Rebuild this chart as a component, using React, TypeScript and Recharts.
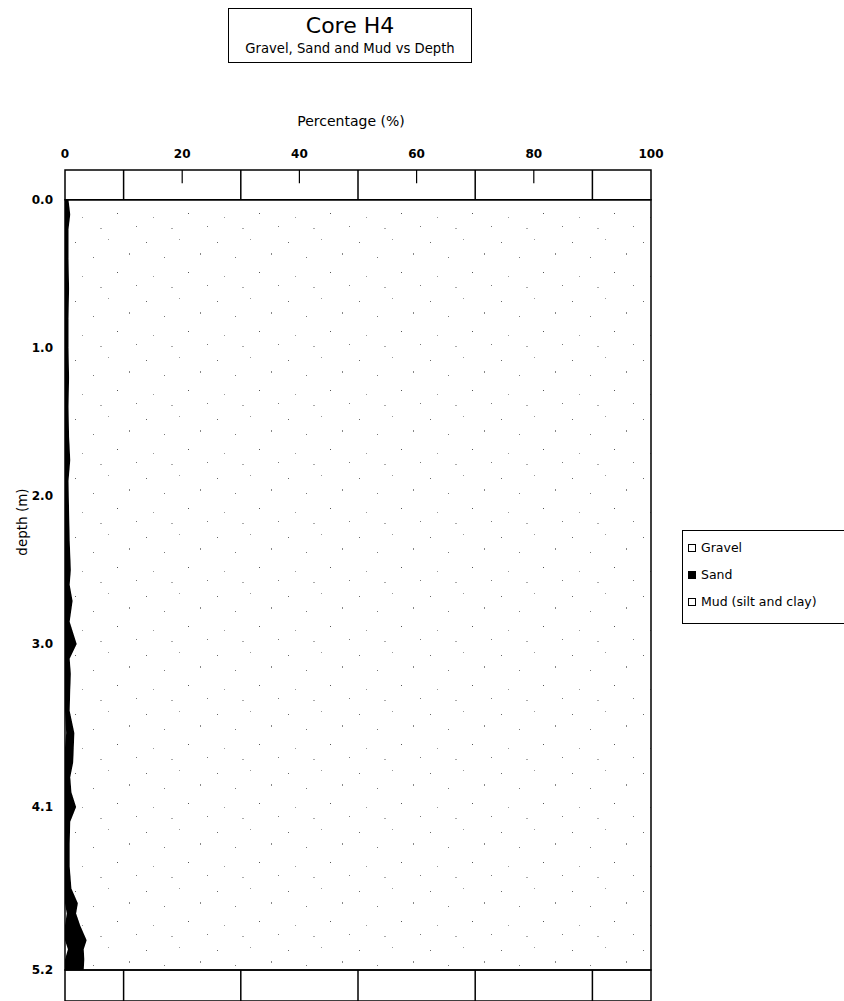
import { Area, ComposedChart, Legend, ReferenceArea, ReferenceLine, XAxis, YAxis } from 'recharts'

// depth below core top (m)
const depths = [
  0, 0.1, 0.2, 0.4, 0.6, 0.8, 1.0, 1.2, 1.4, 1.6, 1.76, 1.9, 2.1, 2.3, 2.5, 2.6, 2.71, 2.85, 3.0, 3.1,
  3.2, 3.31, 3.45, 3.6, 3.7, 3.8, 3.9, 4.0, 4.1, 4.2, 4.35, 4.5, 4.65, 4.75, 4.82, 4.9, 5.0, 5.06, 5.13, 5.2
]
const gravelPct = [
  0, 0, 0, 0, 0, 0, 0, 0, 0, 0, 0, 0, 0, 0, 0, 0, 0, 0, 0, 0,
  0, 0, 0, 0.2, 0, 0, 0, 0, 0, 0, 0, 0, 0, 0, 0.3, 0, 0, 0.5, 0, 0
]
const sandPct = [
  0.6, 0.9, 0.6, 0.6, 0.7, 0.6, 0.6, 0.7, 0.6, 0.7, 0.9, 0.6, 0.7, 0.8, 1.0, 0.8, 1.3, 0.8, 2.0, 0.8,
  1.0, 0.9, 0.8, 1.4, 1.5, 1.4, 0.9, 1.1, 1.9, 0.9, 0.8, 0.8, 1.1, 2.2, 1.6, 2.6, 3.7, 2.7, 3.3, 3.2
]

const seriesNames = ['Gravel', 'Sand', 'Mud (silt and clay)']
const percentTicks = [0, 20, 40, 60, 80, 100]
const depthTicks = [0, 1, 2, 3, 4.1, 5.2]
const stripDividers = [10, 30, 50, 70, 90]
const stripTicks = [20, 40, 60, 80]

const data = depths.map((depth, i) => ({
  depth,
  gravel: gravelPct[i],
  sand: sandPct[i],
  mud: +(100 - gravelPct[i] - sandPct[i]).toFixed(2)
}))

const font = '"DejaVu Sans", "Liberation Sans", sans-serif'

function LegendBox({ payload }: any) {
  const items = [...(payload || [])].sort(
    (a: any, b: any) => seriesNames.indexOf(a.value) - seriesNames.indexOf(b.value)
  )
  return (
    <div style={{ border: '1px solid #000', padding: '3px 0 8px 5px', background: '#fff', fontFamily: font, fontSize: 12.5 }}>
      {items.map((item: any) => (
        <div key={item.value} style={{ display: 'flex', alignItems: 'center', height: 27 }}>
          <span
            style={{
              display: 'inline-block',
              width: 6,
              height: 6,
              marginRight: 5,
              border: '1.5px solid #000',
              background: item.value === 'Sand' ? '#000' : '#fff'
            }}
          />
          {item.value}
        </div>
      ))}
    </div>
  )
}

export default function App() {
  return (
    <div style={{ position: 'absolute', left: 0, top: 0, width: 844, height: 1001, background: '#fff', overflow: 'hidden' }}>
      <div
        style={{
          position: 'absolute',
          left: 228,
          top: 8,
          width: 242,
          height: 53,
          border: '1px solid #000',
          textAlign: 'center',
          fontFamily: font,
          color: '#000'
        }}
      >
        <div style={{ fontSize: 22, lineHeight: '28px', marginTop: 3 }}>Core H4</div>
        <div style={{ fontSize: 13.2, lineHeight: '18px', whiteSpace: 'nowrap' }}>Gravel, Sand and Mud vs Depth</div>
      </div>
      <div
        style={{ position: 'absolute', left: 0, top: 113, width: 702, textAlign: 'center', fontFamily: font, fontSize: 14 }}
      >
        Percentage (%)
      </div>
      <div
        style={{
          position: 'absolute',
          left: 22,
          top: 522,
          transform: 'translate(-50%, -50%) rotate(-90deg)',
          fontFamily: font,
          fontSize: 13.5,
          whiteSpace: 'nowrap'
        }}
      >
        depth (m)
      </div>
      <ComposedChart
        width={844}
        height={1001}
        data={data}
        layout="vertical"
        margin={{ top: 140, right: 193, bottom: 0, left: 0 }}
      >
        <defs>
          <pattern id="stipple" width="71" height="59" patternUnits="userSpaceOnUse">
            <rect width="71" height="59" fill="#fff" />
            <rect x="4" y="6" width="1" height="1" fill="#666" />
            <rect x="37" y="3" width="1" height="1" fill="#999" />
            <rect x="22" y="21" width="1" height="1" fill="#777" />
            <rect x="58" y="17" width="1" height="2" fill="#888" />
            <rect x="11" y="40" width="1" height="1" fill="#999" />
            <rect x="46" y="36" width="1" height="1" fill="#555" />
            <rect x="29" y="51" width="2" height="1" fill="#aaa" />
            <rect x="65" y="49" width="1" height="1" fill="#777" />
          </pattern>
        </defs>
        <XAxis
          type="number"
          orientation="top"
          domain={[0, 100]}
          ticks={percentTicks}
          axisLine={false}
          tickLine={false}
          height={30}
          tickMargin={6}
          tick={{ fill: '#000', fontSize: 12, fontFamily: font, fontWeight: 'bold' }}
        />
        <YAxis
          type="number"
          dataKey="depth"
          domain={[-0.2, 5.41]}
          ticks={depthTicks}
          tickFormatter={(v) => Number(v).toFixed(1)}
          axisLine={false}
          tickLine={false}
          width={65}
          tickMargin={6}
          allowDataOverflow
          tick={{ fill: '#000', fontSize: 12, fontFamily: font, fontWeight: 'bold' }}
        />
        <Area
          type="linear"
          dataKey="gravel"
          name={seriesNames[0]}
          stackId="comp"
          fill="#fff"
          fillOpacity={1}
          stroke="none"
          isAnimationActive={false}
        />
        <Area
          type="linear"
          dataKey="sand"
          name={seriesNames[1]}
          stackId="comp"
          fill="#000"
          fillOpacity={1}
          stroke="#000"
          strokeWidth={1}
          isAnimationActive={false}
        />
        <Area
          type="linear"
          dataKey="mud"
          name={seriesNames[2]}
          stackId="comp"
          fill="url(#stipple)"
          fillOpacity={1}
          stroke="none"
          isAnimationActive={false}
        />
        <ReferenceArea x1={0} x2={100} y1={-0.2} y2={0} fill="none" stroke="#000" strokeWidth={1.5} ifOverflow="visible" />
        <ReferenceArea x1={0} x2={100} y1={0} y2={5.2} fill="none" stroke="#000" strokeWidth={1.5} ifOverflow="visible" />
        <ReferenceArea x1={0} x2={100} y1={5.2} y2={5.41} fill="none" stroke="#000" strokeWidth={1.5} ifOverflow="visible" />
        {stripDividers.map((x) => (
          <ReferenceLine key={`t${x}`} segment={[{ x, y: -0.2 }, { x, y: 0 }]} stroke="#000" strokeWidth={1.5} />
        ))}
        {stripDividers.map((x) => (
          <ReferenceLine key={`b${x}`} segment={[{ x, y: 5.2 }, { x, y: 5.41 }]} stroke="#000" strokeWidth={1.5} />
        ))}
        {stripTicks.map((x) => (
          <ReferenceLine key={`k${x}`} segment={[{ x, y: -0.2 }, { x, y: -0.11 }]} stroke="#000" strokeWidth={1.2} />
        ))}
        <Legend
          layout="vertical"
          align="center"
          verticalAlign="middle"
          content={<LegendBox />}
          wrapperStyle={{ left: 682, top: 530, width: 175 }}
        />
      </ComposedChart>
    </div>
  )
}
